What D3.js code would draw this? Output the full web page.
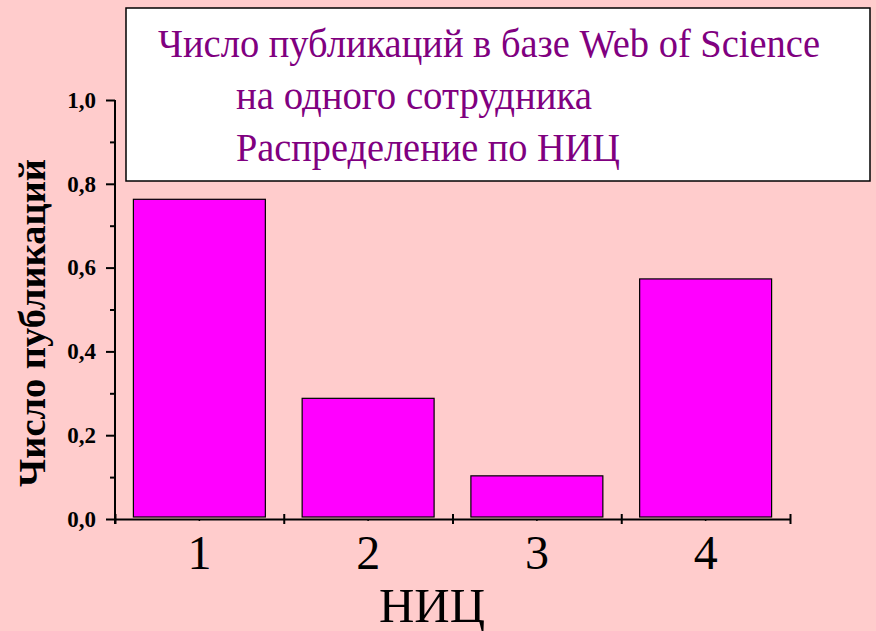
<!DOCTYPE html>
<html>
<head>
<meta charset="utf-8">
<script src="https://cdn.jsdelivr.net/npm/d3@7"></script>
<style>
  body { margin: 0; background: #ffcccc; }
  svg { display: block; }
</style>
</head>
<body>
<div id="chart"></div>
<script>
// data
var categories = ["1", "2", "3", "4"];
var values = [0.763, 0.288, 0.103, 0.573];
var yTicks = [0, 0.2, 0.4, 0.6, 0.8, 1.0];
var yMinorTicks = [0.1, 0.3, 0.5, 0.7, 0.9];
var titleLines = ["Число публикаций в базе Web of Science", "на одного сотрудника", "Распределение по НИЦ"];

var width = 876, height = 631;
var margin = {top: 100, right: 86, bottom: 112, left: 115};

var svg = d3.select("#chart")
  .append("svg")
    .attr("width", width)
    .attr("height", height);

svg.append("rect")
  .attr("width", width)
  .attr("height", height)
  .attr("fill", "#ffcccc");

// scales
var x = d3.scaleBand()
  .domain(categories)
  .range([margin.left, width - margin.right])
  .paddingInner(0.218)
  .paddingOuter(0.109);

var y = d3.scaleLinear()
  .domain([0, 1])
  .range([height - margin.bottom, margin.top]);

var serif = "'Liberation Serif', 'Times New Roman', serif";

// bars
svg.append("g")
  .selectAll("rect")
  .data(values)
  .enter()
  .append("rect")
    .attr("x", function (d, i) { return x(categories[i]); })
    .attr("y", function (d) { return y(d); })
    .attr("width", x.bandwidth())
    .attr("height", function (d) { return y(0) - 2 - y(d); })
    .attr("fill", "#ff00ff")
    .attr("stroke", "#000")
    .attr("stroke-width", 1.2);

// y axis (major ticks with labels)
var yAxis = svg.append("g")
  .attr("transform", "translate(" + margin.left + ",0)")
  .call(d3.axisLeft(y).tickValues(yTicks).tickSize(9).tickPadding(10)
    .tickFormat(function (d) { return d3.format(".1f")(d).replace(".", ","); }));
yAxis.select(".domain").attr("d", "M0," + y(1) + "V" + (y(0) + 5));
yAxis.selectAll("path, line").attr("stroke", "#000").attr("stroke-width", 2);
yAxis.selectAll("text")
  .attr("font-family", serif)
  .attr("font-weight", "bold")
  .attr("font-size", 23)
  .attr("fill", "#000");

// y minor ticks
var yMinor = svg.append("g")
  .attr("transform", "translate(" + margin.left + ",0)")
  .call(d3.axisLeft(y).tickValues(yMinorTicks).tickSize(5).tickFormat(""));
yMinor.select(".domain").remove();
yMinor.selectAll("line").attr("stroke", "#000").attr("stroke-width", 2);

// x axis: crossing ticks at band edges, small ticks at band centres
var xEdges = d3.scaleLinear()
  .domain([0, categories.length])
  .range([margin.left, width - margin.right]);

var xAxis = svg.append("g")
  .attr("transform", "translate(0," + y(0) + ")")
  .call(d3.axisBottom(xEdges).tickValues(d3.range(categories.length + 1)).tickSize(5).tickSizeOuter(0).tickFormat(""));
xAxis.selectAll(".tick line").attr("y1", -5);
xAxis.selectAll("path, line").attr("stroke", "#000").attr("stroke-width", 2);

var xLabels = svg.append("g")
  .attr("transform", "translate(0," + y(0) + ")")
  .call(d3.axisBottom(x).tickSize(2).tickSizeOuter(0).tickPadding(14));
xLabels.select(".domain").remove();
xLabels.selectAll("line").attr("stroke", "#000").attr("stroke-width", 1.5);
xLabels.selectAll("text")
  .attr("font-family", serif)
  .attr("font-size", 48)
  .attr("fill", "#000");

// axis titles
svg.append("text")
  .attr("x", 432)
  .attr("y", 622)
  .attr("text-anchor", "middle")
  .attr("textLength", 106)
  .attr("lengthAdjust", "spacingAndGlyphs")
  .attr("font-family", serif)
  .attr("font-size", 48)
  .text("НИЦ");

svg.append("text")
  .attr("transform", "translate(45,323) rotate(-90)")
  .attr("text-anchor", "middle")
  .attr("textLength", 328)
  .attr("lengthAdjust", "spacingAndGlyphs")
  .attr("font-family", serif)
  .attr("font-weight", "bold")
  .attr("font-size", 37)
  .text("Число публикаций");

// title box
svg.append("rect")
  .attr("x", 126)
  .attr("y", 8)
  .attr("width", 744)
  .attr("height", 173)
  .attr("fill", "#fff")
  .attr("stroke", "#000")
  .attr("stroke-width", 1.5);

var lineX = [158, 236, 236];
var lineY = [57, 109, 161];
var lineW = [662, 356, 384];
svg.append("g")
  .selectAll("text")
  .data(titleLines)
  .enter()
  .append("text")
    .attr("x", function (d, i) { return lineX[i]; })
    .attr("y", function (d, i) { return lineY[i]; })
    .attr("textLength", function (d, i) { return lineW[i]; })
    .attr("lengthAdjust", "spacingAndGlyphs")
    .attr("font-family", serif)
    .attr("font-size", 40)
    .attr("fill", "#800080")
    .text(function (d) { return d; });
</script>
</body>
</html>
